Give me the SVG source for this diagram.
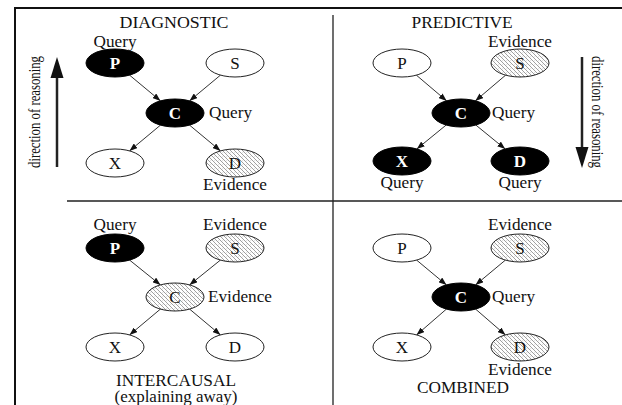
<svg xmlns="http://www.w3.org/2000/svg" width="622" height="405" viewBox="0 0 622 405">
<style>
.frame{stroke:#111;stroke-width:2;fill:none}
.div{stroke:#222;stroke-width:1.3;fill:none}
.n{stroke:#222;stroke-width:1;fill:#fff}
.q{stroke:#000;stroke-width:1;fill:#000}
.e{stroke:#222;stroke-width:1;fill:url(#hatch)}
.t{font-family:"Liberation Serif","Times New Roman",serif;font-size:16px;fill:#111}
.m{text-anchor:middle}
.lb{font-family:"Liberation Serif","Times New Roman",serif;font-size:17px;text-anchor:middle;fill:#111}
.lw{font-family:"Liberation Serif","Times New Roman",serif;font-size:17px;text-anchor:middle;fill:#fff;font-weight:bold}
.edge{stroke:#333;stroke-width:1;fill:none;marker-end:url(#ah)}
.big{stroke:#222;stroke-width:2.5;fill:none}
</style>
<defs>
<pattern id="hatch" patternUnits="userSpaceOnUse" width="4" height="4">
<rect width="4" height="4" fill="#fff"/>
<path d="M-1,-1 L5,5 M3,-1 L5,1 M-1,3 L1,5" stroke="#777" stroke-width="0.7"/>
<rect x="2.5" y="0.5" width="0.6" height="0.6" fill="#999"/>
</pattern>
<marker id="ah" markerUnits="userSpaceOnUse" markerWidth="8" markerHeight="6" refX="8" refY="3" orient="auto">
<path d="M0,0 L8,3 L0,6 z" fill="#111"/>
</marker>
</defs>

<g id="frame">
<path class="frame" d="M15,405 L15,8 L622,8"/>
<path class="div" d="M333,15 L333,405 M67,201 L622,201"/>
</g>

<g id="connectors">
<path class="edge" d="M129.5,75.1 L160.5,100.9"/>
<path class="edge" d="M220.5,75.1 L189.5,100.9"/>
<path class="edge" d="M160.5,125.1 L129.5,150.9"/>
<path class="edge" d="M189.5,125.1 L220.5,150.9"/>
<path class="edge" d="M416.3,75.1 L446.7,100.9"/>
<path class="edge" d="M505.7,75.1 L475.3,100.9"/>
<path class="edge" d="M446.2,125 L416.8,149"/>
<path class="edge" d="M475.8,125 L505.2,149"/>
<path class="edge" d="M129.5,260 L160.5,285"/>
<path class="edge" d="M220.5,260 L189.5,285"/>
<path class="edge" d="M160.5,309 L129.5,335"/>
<path class="edge" d="M189.5,309 L220.5,335"/>
<path class="edge" d="M416.5,260 L446.5,285"/>
<path class="edge" d="M505.5,260 L475.5,285"/>
<path class="edge" d="M446.5,309 L416.5,335"/>
<path class="edge" d="M475.5,309 L505.5,335"/>
</g>

<g id="diagnostic">
<text class="t m" x="174" y="28" textLength="109" lengthAdjust="spacingAndGlyphs">DIAGNOSTIC</text>
<g id="d-arrow">
<path class="big" d="M57,167 L57,74"/>
<path d="M50.5,78 L57,57 L63.5,78 z" fill="#111"/>
<text class="t m" transform="translate(40,112) rotate(-90)" x="0" y="0" font-size="16" textLength="112" lengthAdjust="spacingAndGlyphs">direction of reasoning</text>
</g>
<g id="d-P"><ellipse class="q" cx="115" cy="63" rx="29" ry="14"/><text class="lw" x="115" y="69">P</text></g>
<g id="d-S"><ellipse class="n" cx="235" cy="63" rx="29" ry="14"/><text class="lb" x="235" y="69">S</text></g>
<g id="d-C"><ellipse class="q" cx="175" cy="113" rx="29" ry="14"/><text class="lw" x="175" y="119">C</text></g>
<g id="d-X"><ellipse class="n" cx="115" cy="163" rx="29" ry="14"/><text class="lb" x="115" y="169">X</text></g>
<g id="d-D"><ellipse class="e" cx="235" cy="163" rx="29" ry="14"/><text class="lb" x="235" y="169">D</text></g>
<text class="t m" x="115" y="47" textLength="43" lengthAdjust="spacingAndGlyphs">Query</text>
<text class="t" x="209" y="118" textLength="43" lengthAdjust="spacingAndGlyphs">Query</text>
<text class="t m" x="235" y="190" textLength="64" lengthAdjust="spacingAndGlyphs">Evidence</text>
</g>

<g id="predictive">
<text class="t m" x="462" y="28" textLength="101" lengthAdjust="spacingAndGlyphs">PREDICTIVE</text>
<g id="p-arrow">
<path class="big" d="M582,57 L582,150"/>
<path d="M575.5,147 L582,168 L588.5,147 z" fill="#111"/>
<text class="t m" transform="translate(592,112) rotate(90)" x="0" y="0" font-size="16" textLength="112" lengthAdjust="spacingAndGlyphs">direction of reasoning</text>
</g>
<g id="p-P"><ellipse class="n" cx="402" cy="63" rx="29" ry="14"/><text class="lb" x="402" y="69">P</text></g>
<g id="p-S"><ellipse class="e" cx="520" cy="63" rx="29" ry="14"/><text class="lb" x="520" y="69">S</text></g>
<g id="p-C"><ellipse class="q" cx="461" cy="113" rx="29" ry="14"/><text class="lw" x="461" y="119">C</text></g>
<g id="p-X"><ellipse class="q" cx="402" cy="161" rx="29" ry="14"/><text class="lw" x="402" y="167">X</text></g>
<g id="p-D"><ellipse class="q" cx="520" cy="161" rx="29" ry="14"/><text class="lw" x="520" y="167">D</text></g>
<text class="t m" x="520" y="47" textLength="64" lengthAdjust="spacingAndGlyphs">Evidence</text>
<text class="t" x="492" y="118" textLength="43" lengthAdjust="spacingAndGlyphs">Query</text>
<text class="t m" x="402" y="188" textLength="43" lengthAdjust="spacingAndGlyphs">Query</text>
<text class="t m" x="520" y="188" textLength="43" lengthAdjust="spacingAndGlyphs">Query</text>
</g>

<g id="intercausal">
<g id="i-P"><ellipse class="q" cx="115" cy="248" rx="29" ry="14"/><text class="lw" x="115" y="254">P</text></g>
<g id="i-S"><ellipse class="e" cx="235" cy="248" rx="29" ry="14"/><text class="lb" x="235" y="254">S</text></g>
<g id="i-C"><ellipse class="e" cx="175" cy="297" rx="29" ry="14"/><text class="lb" x="175" y="303">C</text></g>
<g id="i-X"><ellipse class="n" cx="115" cy="347" rx="29" ry="14"/><text class="lb" x="115" y="353">X</text></g>
<g id="i-D"><ellipse class="n" cx="235" cy="347" rx="29" ry="14"/><text class="lb" x="235" y="353">D</text></g>
<text class="t m" x="115" y="230" textLength="43" lengthAdjust="spacingAndGlyphs">Query</text>
<text class="t m" x="235" y="230" textLength="64" lengthAdjust="spacingAndGlyphs">Evidence</text>
<text class="t" x="208" y="302" textLength="64" lengthAdjust="spacingAndGlyphs">Evidence</text>
<text class="t m" x="176" y="386" font-size="14" textLength="120" lengthAdjust="spacingAndGlyphs">INTERCAUSAL</text>
<text class="t m" x="176" y="402" font-size="14" textLength="123" lengthAdjust="spacingAndGlyphs">(explaining away)</text>
</g>

<g id="combined">
<g id="c-P"><ellipse class="n" cx="402" cy="248" rx="29" ry="14"/><text class="lb" x="402" y="254">P</text></g>
<g id="c-S"><ellipse class="e" cx="520" cy="248" rx="29" ry="14"/><text class="lb" x="520" y="254">S</text></g>
<g id="c-C"><ellipse class="q" cx="461" cy="297" rx="29" ry="14"/><text class="lw" x="461" y="303">C</text></g>
<g id="c-X"><ellipse class="n" cx="402" cy="347" rx="29" ry="14"/><text class="lb" x="402" y="353">X</text></g>
<g id="c-D"><ellipse class="e" cx="520" cy="347" rx="29" ry="14"/><text class="lb" x="520" y="353">D</text></g>
<text class="t m" x="520" y="230" textLength="64" lengthAdjust="spacingAndGlyphs">Evidence</text>
<text class="t" x="492" y="302" textLength="43" lengthAdjust="spacingAndGlyphs">Query</text>
<text class="t m" x="520" y="375" textLength="64" lengthAdjust="spacingAndGlyphs">Evidence</text>
<text class="t m" x="463" y="393" textLength="92" lengthAdjust="spacingAndGlyphs">COMBINED</text>
</g>
</svg>
